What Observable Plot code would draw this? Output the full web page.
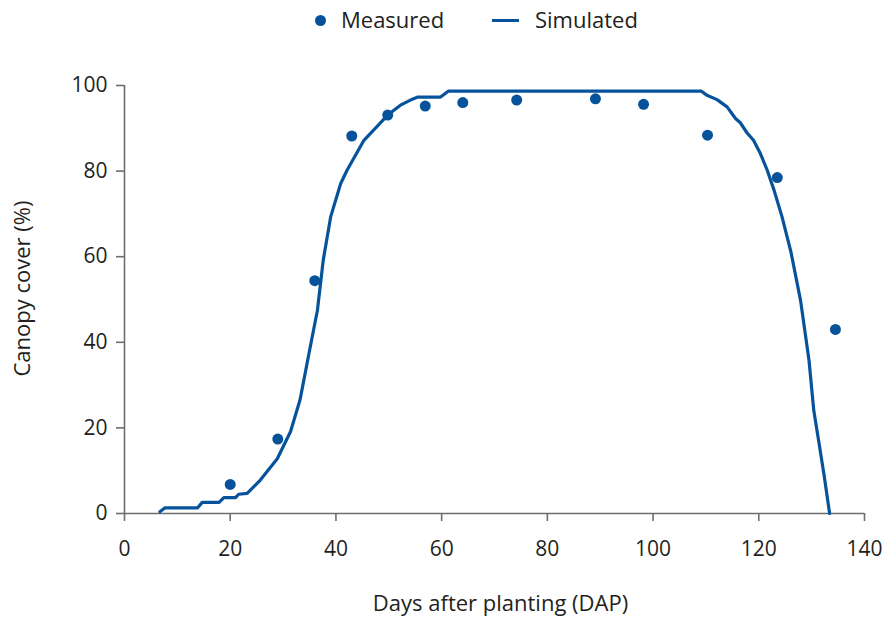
<!DOCTYPE html>
<html>
<head>
<meta charset="utf-8">
<script src="https://cdn.jsdelivr.net/npm/d3@7"></script>
<script src="https://cdn.jsdelivr.net/npm/@observablehq/plot@0.6"></script>
<style>
  html, body { margin: 0; padding: 0; background: #fff; }
  body { width: 885px; height: 621px; overflow: hidden; font-family: "Open Sans", sans-serif; color: #231f20; }
  #legend { position: relative; height: 40px; width: 885px; }
  #legend .dot { position: absolute; left: 315px; top: 15px; width: 11px; height: 11px; border-radius: 50%; background: #07539b; }
  #legend .line { position: absolute; left: 492px; top: 19px; width: 27px; height: 3px; background: #07539b; }
  #legend .lab { position: absolute; top: 4px; font-size: 22px; line-height: 30px; }
</style>
</head>
<body>
<div id="legend">
  <div class="dot"></div><span class="lab" style="left:341px">Measured</span>
  <div class="line"></div><span class="lab" style="left:535px">Simulated</span>
</div>
<div id="chart"></div>
<script>
const measuredDays  = [20, 29, 36, 43, 49.8, 56.9, 64, 74.2, 89.1, 98.2, 110.3, 123.5, 134.5];
const measuredCover = [6.8, 17.4, 54.4, 88.2, 93.1, 95.2, 96.0, 96.6, 96.9, 95.6, 88.4, 78.5, 43.0];

const simDays  = [6.7, 7.6, 13.8, 14.7, 17.9, 18.8, 21, 21.6, 23.2, 25.7, 28.9, 31.4, 33.2, 34.9, 36.5, 37.6, 39.0, 40.9, 42.1, 45.3, 49.8, 52.2, 54.1, 55.5, 59.8, 61.3, 109.1, 110.2, 112.1, 114, 115.6, 116.5, 117.8, 119, 120.3, 121.6, 122.9, 124.4, 126.1, 127.9, 129.5, 130.4, 131.4, 132.4, 133.4];
const simCover = [0.4, 1.3, 1.3, 2.6, 2.6, 3.7, 3.7, 4.5, 4.7, 7.8, 12.8, 19.1, 26.5, 37.4, 47.5, 59.2, 69.3, 77.1, 80.2, 87.2, 93.1, 95.4, 96.6, 97.3, 97.3, 98.7, 98.7, 97.7, 96.7, 95, 92.3, 91.3, 88.9, 87.2, 84.1, 80.2, 75.5, 69.3, 61, 49.8, 35.8, 24.1, 16.4, 8.6, 0];

const xTicks = [0, 20, 40, 60, 80, 100, 120, 140];
const yTicks = [0, 20, 40, 60, 80, 100];

const measured = measuredDays.map((d, i) => ({day: d, cover: measuredCover[i]}));
const simulated = simDays.map((d, i) => ({day: d, cover: simCover[i]}));

const blue = "#07539b";
const axisGray = "#6d6e70";

const chart = Plot.plot({
  width: 885,
  height: 581,
  marginTop: 45,
  marginBottom: 108,
  marginLeft: 124,
  marginRight: 21,
  style: {fontFamily: "Open Sans, sans-serif", color: "#231f20", background: "#fff"},
  x: {domain: [0, 140]},
  y: {domain: [0, 100]},
  marks: [
    Plot.ruleY([0], {stroke: axisGray, strokeWidth: 1.6}),
    Plot.ruleX([0], {stroke: axisGray, strokeWidth: 1.6}),
    Plot.axisX({ticks: xTicks, tickSize: 8, tickPadding: 20, stroke: axisGray, strokeWidth: 1.6, fontSize: 21, fill: "#231f20", label: null}),
    Plot.axisY({ticks: yTicks, tickSize: 8, tickPadding: 9, stroke: axisGray, strokeWidth: 1.6, fontSize: 21, fill: "#231f20", label: null}),
    Plot.line(simulated, {x: "day", y: "cover", stroke: blue, strokeWidth: 3.2, strokeLinejoin: "round", strokeLinecap: "round"}),
    Plot.dot(measured, {x: "day", y: "cover", r: 5.5, fill: blue, stroke: "none"}),
    Plot.text(["Days after planting (DAP)"], {frameAnchor: "bottom", textAnchor: "middle", dx: 6, dy: 90, lineAnchor: "middle", fontSize: 22, fill: "#231f20"}),
    Plot.text(["Canopy cover (%)"], {frameAnchor: "left", textAnchor: "middle", rotate: -90, dx: -102, dy: -11, lineAnchor: "middle", fontSize: 22, fill: "#231f20"})
  ]
});
document.getElementById("chart").appendChild(chart);
</script>
</body>
</html>
